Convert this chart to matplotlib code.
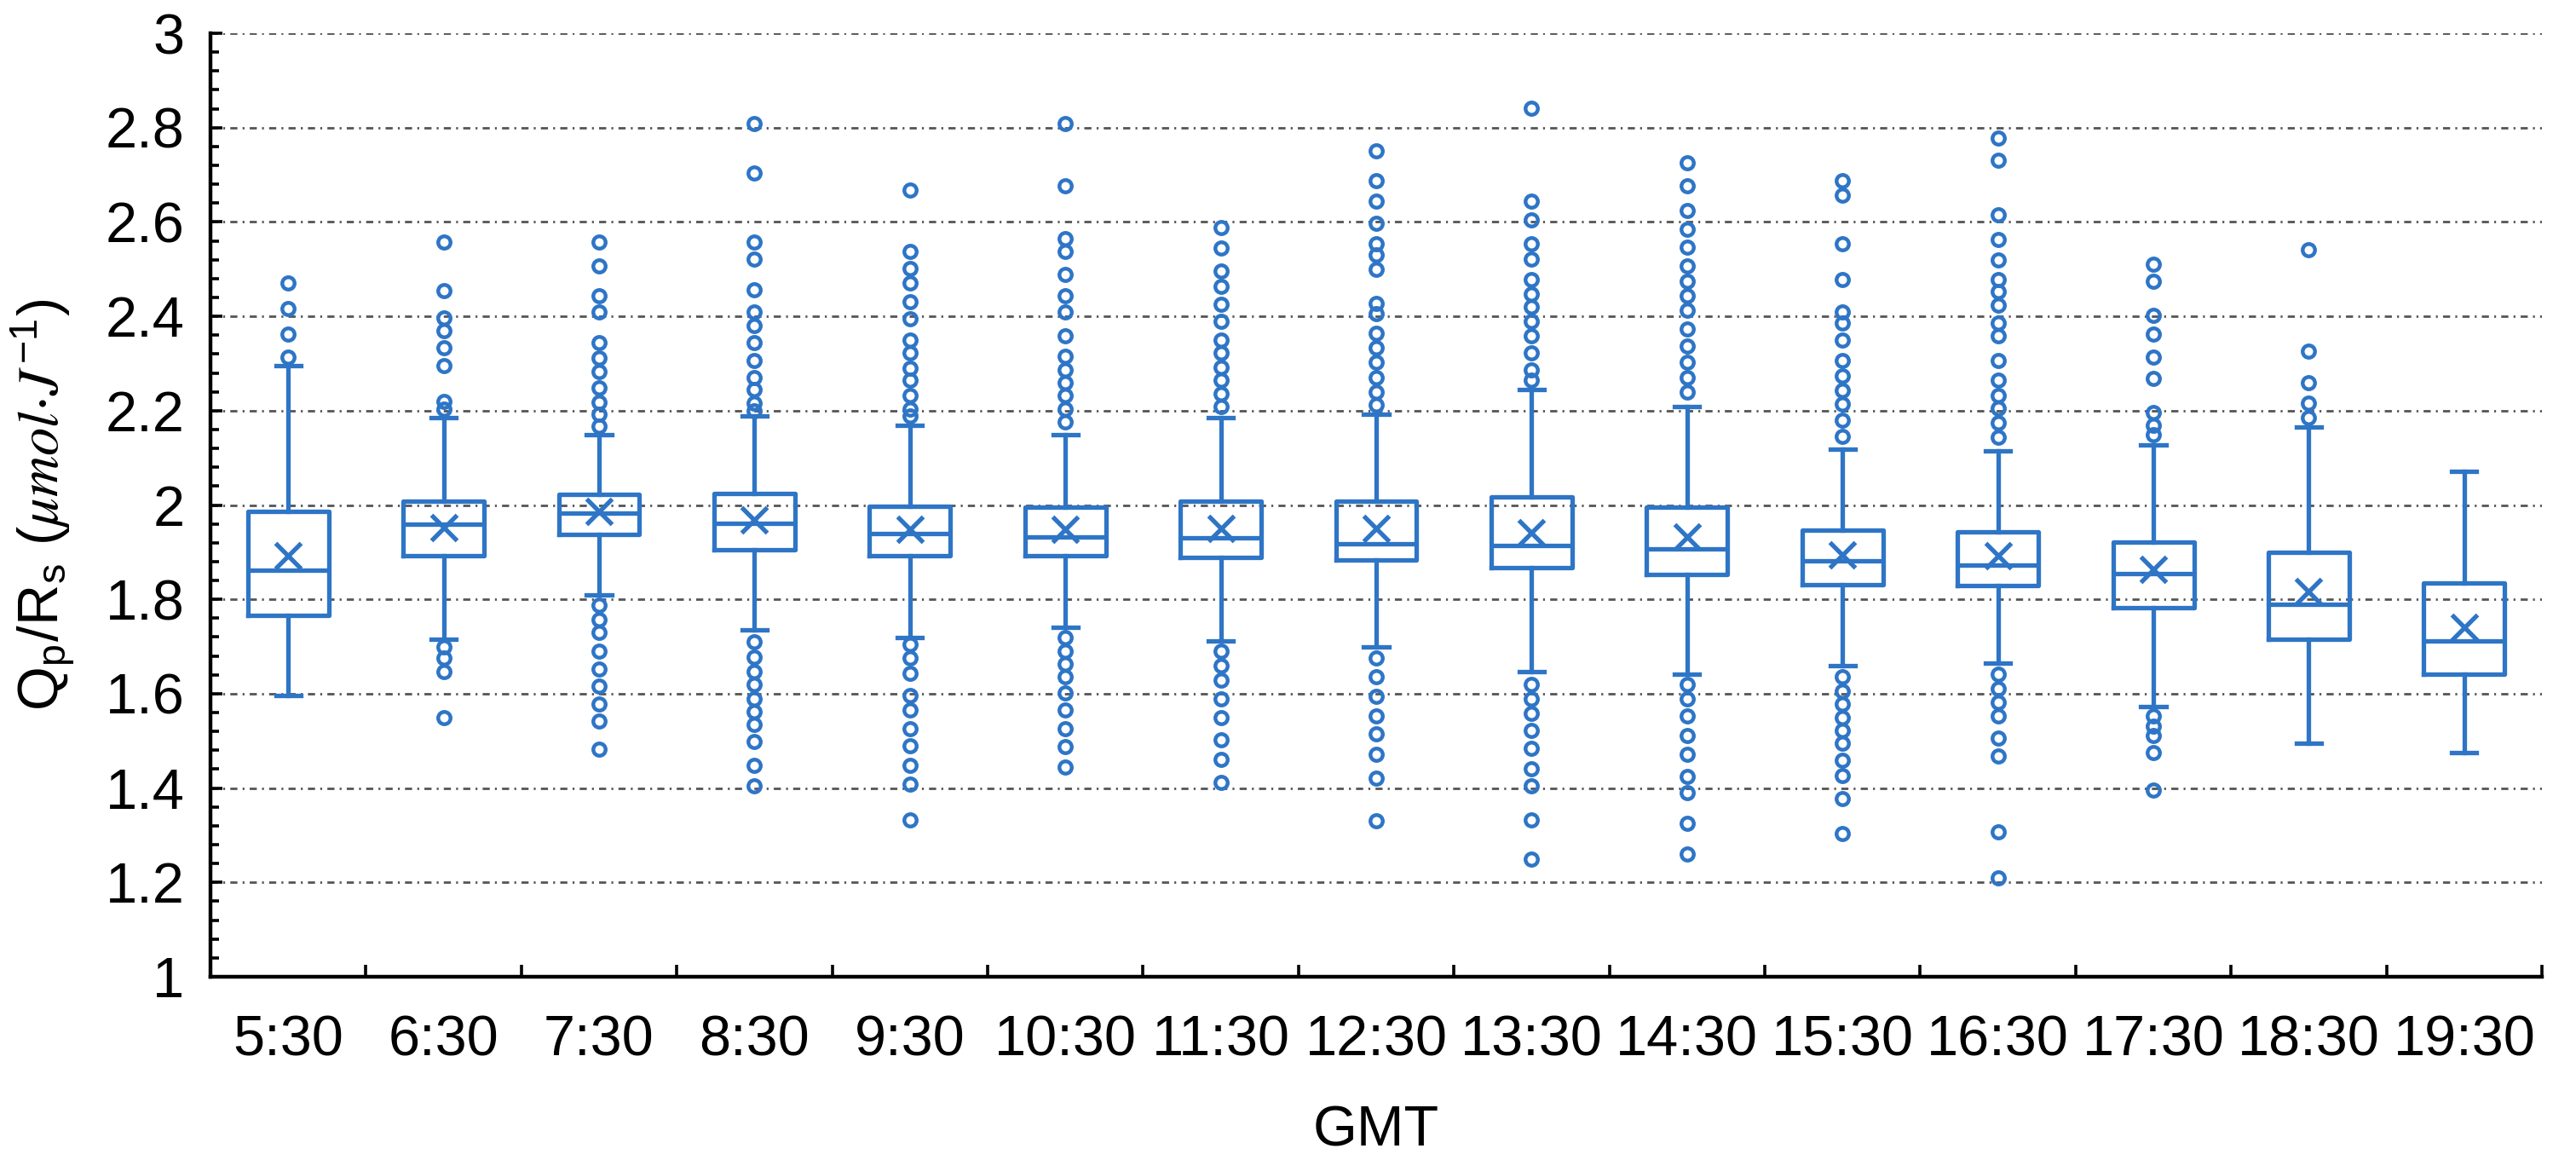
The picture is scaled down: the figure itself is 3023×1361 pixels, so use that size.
import matplotlib
matplotlib.use("Agg")
import matplotlib.pyplot as plt
from matplotlib.ticker import MultipleLocator, FixedLocator, FormatStrFormatter, NullFormatter

plt.rcParams['font.family'] = ['Liberation Sans', 'DejaVu Sans']
plt.rcParams['mathtext.fontset'] = 'custom'
plt.rcParams['mathtext.rm'] = 'Liberation Sans'
plt.rcParams['mathtext.sf'] = 'Liberation Sans'
plt.rcParams['mathtext.it'] = 'STIXGeneral:italic'
plt.rcParams['mathtext.fallback'] = 'stix'

# data
labels = ['5:30', '6:30', '7:30', '8:30', '9:30', '10:30', '11:30', '12:30',
          '13:30', '14:30', '15:30', '16:30', '17:30', '18:30', '19:30']
whis_lo = [1.597, 1.715, 1.809, 1.736, 1.719, 1.741, 1.711, 1.699, 1.647, 1.641, 1.660, 1.664, 1.573, 1.495, 1.476]
q1 = [1.766, 1.893, 1.937, 1.906, 1.892, 1.893, 1.889, 1.884, 1.867, 1.853, 1.831, 1.829, 1.782, 1.715, 1.641]
med = [1.862, 1.959, 1.983, 1.961, 1.939, 1.933, 1.931, 1.918, 1.914, 1.907, 1.882, 1.873, 1.854, 1.790, 1.711]
q3 = [1.986, 2.008, 2.022, 2.025, 1.998, 1.995, 2.008, 2.008, 2.017, 1.995, 1.947, 1.944, 1.922, 1.900, 1.834]
whis_hi = [2.295, 2.185, 2.149, 2.188, 2.169, 2.149, 2.185, 2.193, 2.245, 2.209, 2.119, 2.115, 2.127, 2.166, 2.072]
means = [1.892, 1.953, 1.986, 1.969, 1.948, 1.948, 1.951, 1.951, 1.942, 1.933, 1.895, 1.892, 1.864, 1.816, 1.741]

fliers = [
    [2.470, 2.416, 2.362, 2.314],
    [2.558, 2.455, 2.397, 2.370, 2.334, 2.295, 2.220, 2.204,
     1.699, 1.675, 1.647, 1.550],
    [2.558, 2.507, 2.444, 2.409, 2.344, 2.312, 2.282, 2.249, 2.218, 2.193, 2.168,
     1.788, 1.757, 1.730, 1.691, 1.652, 1.616, 1.578, 1.542, 1.482],
    [2.809, 2.703, 2.558, 2.522, 2.456, 2.409, 2.381, 2.345, 2.306, 2.271, 2.245, 2.216, 2.200,
     1.710, 1.678, 1.647, 1.620, 1.589, 1.562, 1.534, 1.498, 1.448, 1.405],
    [2.667, 2.538, 2.502, 2.471, 2.431, 2.394, 2.350, 2.322, 2.290, 2.264, 2.232, 2.204, 2.188,
     1.704, 1.675, 1.644, 1.597, 1.565, 1.526, 1.490, 1.448, 1.409, 1.333],
    [2.808, 2.676, 2.565, 2.538, 2.488, 2.444, 2.409, 2.359, 2.315, 2.287, 2.259, 2.232, 2.204, 2.177,
     1.719, 1.691, 1.663, 1.636, 1.602, 1.565, 1.526, 1.487, 1.445],
    [2.588, 2.544, 2.496, 2.463, 2.425, 2.389, 2.350, 2.322, 2.292, 2.264, 2.235, 2.209,
     1.691, 1.660, 1.628, 1.589, 1.550, 1.503, 1.460, 1.412],
    [2.750, 2.687, 2.645, 2.598, 2.554, 2.530, 2.499, 2.428, 2.405, 2.365, 2.334, 2.303, 2.271, 2.240, 2.212,
     1.675, 1.636, 1.594, 1.553, 1.514, 1.471, 1.421, 1.330],
    [2.841, 2.645, 2.605, 2.554, 2.522, 2.478, 2.447, 2.420, 2.389, 2.358, 2.322, 2.287, 2.264,
     1.620, 1.589, 1.558, 1.522, 1.484, 1.440, 1.405, 1.333, 1.249],
    [2.726, 2.676, 2.624, 2.585, 2.546, 2.507, 2.475, 2.444, 2.413, 2.373, 2.337, 2.303, 2.271, 2.240,
     1.620, 1.589, 1.553, 1.511, 1.471, 1.424, 1.390, 1.325, 1.260],
    [2.687, 2.656, 2.554, 2.478, 2.409, 2.386, 2.350, 2.306, 2.274, 2.243, 2.215, 2.180, 2.146,
     1.636, 1.605, 1.578, 1.550, 1.522, 1.495, 1.459, 1.427, 1.377, 1.304],
    [2.778, 2.730, 2.616, 2.562, 2.519, 2.478, 2.452, 2.424, 2.385, 2.358, 2.307, 2.264, 2.232, 2.206, 2.174, 2.143,
     1.641, 1.610, 1.581, 1.553, 1.506, 1.468, 1.307, 1.210],
    [2.511, 2.475, 2.402, 2.362, 2.314, 2.268, 2.196, 2.169, 2.149,
     1.553, 1.531, 1.511, 1.476, 1.396],
    [2.541, 2.326, 2.260, 2.216, 2.185],
    [],
]

blue = '#2E75C6'
lw = 1.9

stats = []
for i in range(len(labels)):
    stats.append(dict(label=labels[i], whislo=whis_lo[i], q1=q1[i], med=med[i],
                      q3=q3[i], whishi=whis_hi[i], mean=means[i], fliers=fliers[i]))

fig = plt.figure(figsize=(15.115, 6.805), dpi=200)
ax = fig.add_axes([0.0817, 0.158, 0.9051, 0.8133])

positions = list(range(1, len(labels) + 1))
ax.bxp(stats, positions=positions, widths=0.52, capwidths=0.16,
       showmeans=True, showfliers=True, patch_artist=False,
       boxprops=dict(color=blue, linewidth=lw),
       whiskerprops=dict(color=blue, linewidth=lw),
       capprops=dict(color=blue, linewidth=lw),
       medianprops=dict(color=blue, linewidth=lw),
       meanprops=dict(marker='x', markeredgecolor=blue, markersize=10.5, markeredgewidth=lw),
       flierprops=dict(marker='o', markerfacecolor='none', markeredgecolor=blue,
                       markersize=5.2, markeredgewidth=1.6),
       zorder=3)

ax.set_xlim(0.5, len(labels) + 0.5)
ax.set_ylim(1, 3)

# y axis
ax.yaxis.set_major_locator(MultipleLocator(0.2))
ax.yaxis.set_minor_locator(MultipleLocator(0.04))
ax.yaxis.set_major_formatter(FormatStrFormatter('%g'))
ax.tick_params(axis='y', which='major', direction='in', length=5, width=1.3, labelsize=24, pad=11)
ax.tick_params(axis='y', which='minor', direction='in', length=3.5, width=1.3)

# x axis: ticks at category boundaries, labels at centres
ax.xaxis.set_major_locator(FixedLocator([p + 0.5 for p in positions]))
ax.xaxis.set_major_formatter(NullFormatter())
ax.set_xticks(positions, labels, minor=True)
ax.tick_params(axis='x', which='major', direction='in', length=5, width=1.3)
ax.tick_params(axis='x', which='minor', length=0, labelsize=24, pad=16)

ax.grid(axis='y', which='major', color='#555555', linewidth=1.0,
        linestyle=(0, (3, 2.2, 0.8, 2.2)), zorder=0)
ax.set_axisbelow(True)

for s in ['top', 'right']:
    ax.spines[s].set_visible(False)
for s in ['left', 'bottom']:
    ax.spines[s].set_linewidth(1.6)

ax.set_xlabel('GMT', fontsize=24, labelpad=16)
ax.set_ylabel(r'Q$_\mathsf{p}$/R$_\mathsf{s}$ $(\mu mol{\cdot}J^{-1})$', fontsize=24, labelpad=12)

fig.savefig('out.png', dpi=200)
